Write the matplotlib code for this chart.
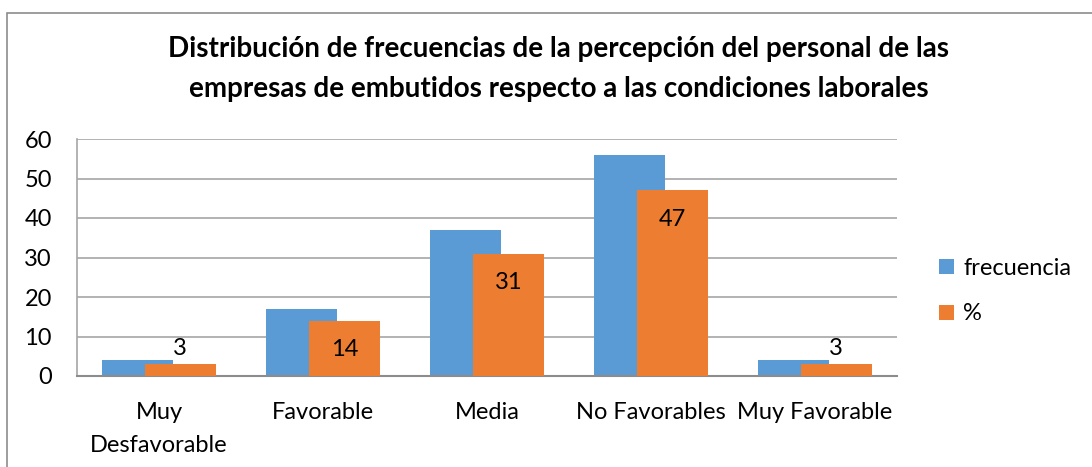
import matplotlib
matplotlib.use("Agg")
import matplotlib.pyplot as plt
import numpy as np
from matplotlib.patches import Rectangle

categories = ["Muy\nDesfavorable", "Favorable", "Media", "No Favorables", "Muy Favorable"]
frecuencia = [4, 17, 37, 56, 4]
porcentaje = [3, 14, 31, 47, 3]
series_names = ["frecuencia", "%"]
yticks = [0, 10, 20, 30, 40, 50, 60]
title = ("Distribución de frecuencias de la percepción del personal de las\n"
         "empresas de embutidos respecto a las condiciones laborales")

plt.rcParams['font.family'] = ['Lato', 'DejaVu Sans']

W, H = 1092, 467
fig = plt.figure(figsize=(W / 100, H / 100), dpi=100)

# outer chart frame
fig.patches.append(Rectangle((7 / W, -0.1), 1.2, 1 - 13 / H + 0.1, transform=fig.transFigure,
                             fill=False, edgecolor="#8c8c8c", linewidth=1.2, zorder=0))

ax = fig.add_axes([77 / W, 1 - 376 / H, (897 - 77) / W, (376 - 139) / H])

x = np.arange(len(categories))
bw = 0.43
off = 0.13
blue = "#5B9BD5"
orange = "#ED7D31"
ax.bar(x - off, frecuencia, bw, color=blue, label=series_names[0], zorder=2)
ax.bar(x + off, porcentaje, bw, color=orange, label=series_names[1], zorder=3)

for xi, v in zip(x, porcentaje):
    if v >= 10:
        ax.annotate(str(v), (xi + off, v), xytext=(0, -21), textcoords="offset points",
                    ha="center", va="center", fontsize=17, zorder=4)
    else:
        ax.annotate(str(v), (xi + off, v), xytext=(0, 11), textcoords="offset points",
                    ha="center", va="center", fontsize=17, zorder=4)

ax.set_xlim(-0.5, len(categories) - 0.5)
ax.set_ylim(0, 60)
ax.set_yticks(yticks)
ax.set_yticklabels([str(t) for t in yticks], fontsize=17)
ax.set_xticks(x)
ax.set_xticklabels(categories, fontsize=17, linespacing=1.68)
ax.tick_params(axis="both", length=0)
ax.tick_params(axis="y", pad=18)
ax.tick_params(axis="x", pad=19)
ax.grid(axis="y", color="#a6a6a6", linewidth=1.2, zorder=1)
ax.set_axisbelow(True)
for s in ["top", "right"]:
    ax.spines[s].set_visible(False)
ax.spines["left"].set_color("#a6a6a6")
ax.spines["left"].set_linewidth(1.2)
ax.spines["bottom"].set_color("#8c8c8c")
ax.spines["bottom"].set_linewidth(1.5)

fig.text(559 / W, 1 - 69 / H, title, ha="center", va="center", fontsize=20,
         fontweight="bold", linespacing=1.7)

fig.legend(loc="center left", bbox_to_anchor=(930 / W, 1 - 291 / H), frameon=False,
           fontsize=17, handlelength=0.6, handleheight=0.6, handletextpad=0.4,
           labelspacing=1.05, borderaxespad=0)

fig.savefig("out.png", dpi=100)
